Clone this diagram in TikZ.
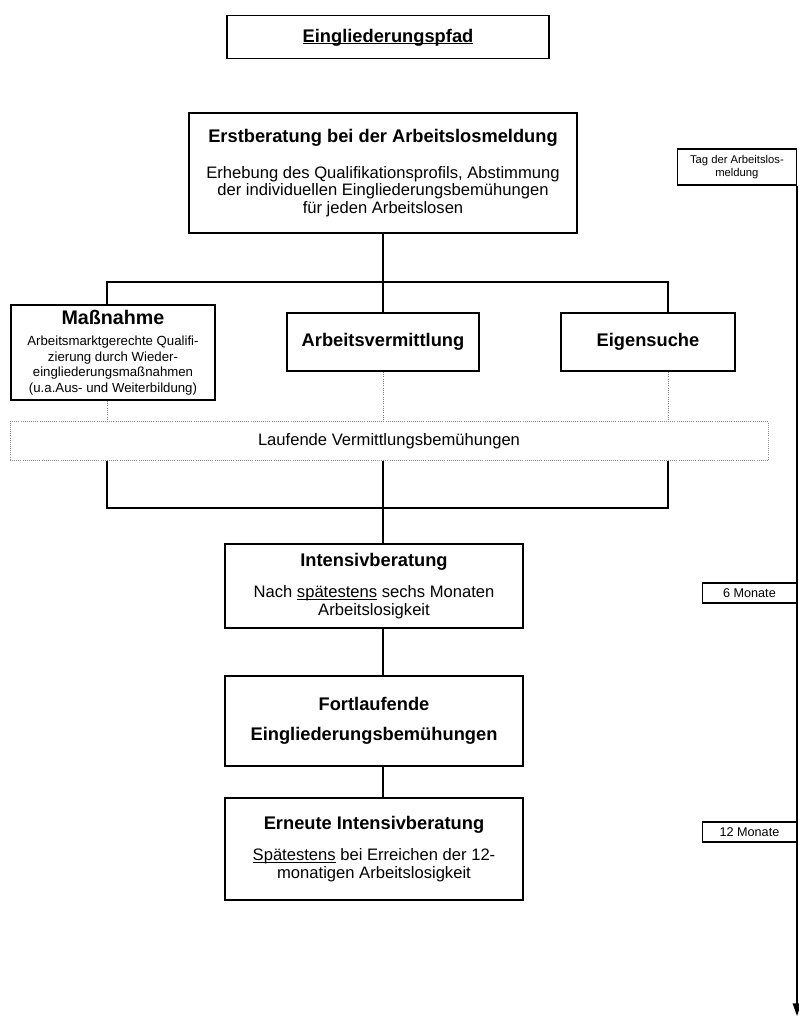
\documentclass[tikz,border=0pt]{standalone}
\usepackage{fontspec}
\setmainfont{Liberation Sans}
\usetikzlibrary{arrows.meta}
\newcommand{\boxhead}{\fontsize{13}{15}\bfseries\selectfont}
\newcommand{\boxbody}{\fontsize{11.8}{12.6}\selectfont}
\newcommand{\massbody}{\fontsize{9.4}{11}\selectfont}
% underline close to the base line
\newcommand{\undl}[2][0.5pt]{\setbox0\hbox{#2}\rlap{\rule[-1.6pt]{\wd0}{#1}}\box0\relax}
\tikzstyle{mainbox} = [rectangle, draw=black, line width=1.4pt, align=center, inner sep=2pt, font=\boxbody]
\tikzstyle{smallbox} = [rectangle, draw=black, line width=0.8pt, align=center, inner sep=1pt, anchor=east]
\tikzstyle{dotbox} = [rectangle, draw=black!45, densely dotted, line width=0.5pt, align=center, font=\boxbody]
\tikzstyle{line} = [line width=1.4pt]
\tikzstyle{dotline} = [draw=black!50, densely dotted, line width=0.6pt]
\tikzstyle{arrow} = [line width=1pt, -{Triangle[width=6pt,length=9pt]}]

\begin{document}
\begin{tikzpicture}[x=0.025cm, y=-0.025cm]
\useasboundingbox (0,0) rectangle (799,1018);
% main column
\node (title) [mainbox, minimum width=8.03cm, minimum height=1.075cm, text depth=2pt] at (388,37) {\boxhead\undl[0.9pt]{Eingliederungspfad}};
\node (erst) [mainbox, minimum width=9.675cm, minimum height=3cm] at (383,173) {{\boxhead Erstberatung bei der Arbeitslosmeldung}\\[13pt]Erhebung des Qualifikationsprofils, Abstimmung\\der individuellen Eingliederungsbemühungen\\für jeden Arbeitslosen};
\node (massn) [mainbox, minimum width=5.1cm, minimum height=2.375cm, font=\massbody] at (113,352.5) {{\fontsize{14}{15}\bfseries\selectfont Maßnahme}\\[4pt]Arbeitsmarktgerechte Qualifi-\\zierung durch Wieder-\\eingliederungsmaßnahmen\\(u.a.Aus- und Weiterbildung)};
\node (vermitt) [mainbox, minimum width=4.8cm, minimum height=1.45cm] at (383,342) {\boxhead Arbeitsvermittlung};
\node (eigen) [mainbox, minimum width=4.33cm, minimum height=1.45cm] at (648,342) {\boxhead Eigensuche};
\node (lauf) [dotbox, minimum width=18.95cm, minimum height=0.975cm] at (389,441) {Laufende Vermittlungsbemühungen};
\node (intens) [mainbox, minimum width=7.45cm, minimum height=2.1cm] at (374,586) {{\boxhead Intensivberatung}\\[10pt]Nach \undl{spätestens} sechs Monaten\\Arbeitslosigkeit};
\node (fort) [mainbox, minimum width=7.45cm, minimum height=2.25cm, font=\boxhead] at (374,721) {Fortlaufende\\[6pt]Eingliederungsbemühungen};
\node (erneut) [mainbox, minimum width=7.45cm, minimum height=2.55cm] at (374,849) {{\boxhead Erneute Intensivberatung}\\[10pt]\undl{Spätestens} bei Erreichen der 12-\\monatigen Arbeitslosigkeit};

% time line
\node (tag) [smallbox, minimum width=2.975cm, minimum height=0.9cm, font=\fontsize{8}{9.5}\selectfont] at (797,167) {Tag der Arbeitslos-\\meldung};
\node (m6) [smallbox, minimum width=2.35cm, minimum height=0.5cm, font=\fontsize{9}{10}\selectfont] at (797,593) {6 Monate};
\node (m12) [smallbox, minimum width=2.35cm, minimum height=0.5cm, font=\fontsize{9}{10}\selectfont] at (797,832) {12 Monate};
\coordinate (tend) at (797,1016);
\draw [arrow] (tag.south east) -- (tend);

% connectors
\coordinate (barL) at (107,282);
\coordinate (barR) at (668,282);
\coordinate (lowL) at (107,508);
\coordinate (lowR) at (668,508);
\draw [line] (erst.south) -- (vermitt.north);
\draw [line] (barL |- massn.north) -- (barL) -- (barR) -- (barR |- eigen.north);
\draw [dotline] (barL |- massn.south) -- (barL |- lauf.north);
\draw [dotline] (vermitt.south) -- (vermitt |- lauf.north);
\draw [dotline] (barR |- eigen.south) -- (barR |- lauf.north);
\draw [line] (barL |- lauf.south) -- (lowL) -- (lowR) -- (barR |- lauf.south);
\draw [line] (vermitt |- lauf.south) -- (vermitt |- intens.north);
\draw [line] (vermitt |- intens.south) -- (vermitt |- fort.north);
\draw [line] (vermitt |- fort.south) -- (vermitt |- erneut.north);
\end{tikzpicture}
\end{document}
